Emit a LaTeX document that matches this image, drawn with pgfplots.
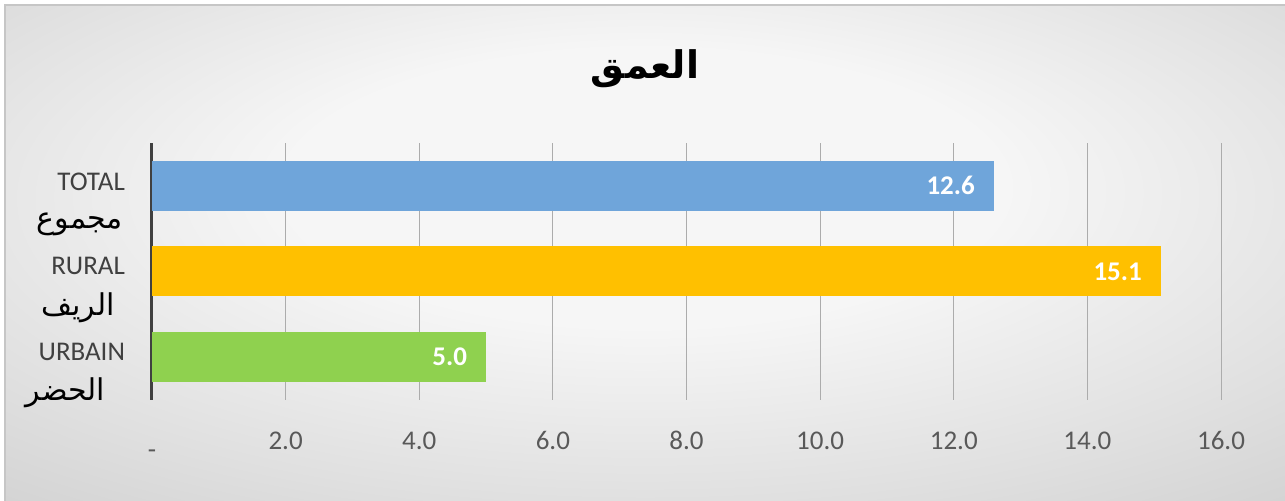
\documentclass[border=0pt]{standalone}
\usepackage{fontspec}
\setmainfont{Carlito}
\newfontfamily\arabicfont[Script=Arabic]{DejaVu Sans}
\TeXXeTstate=1
\usepackage{pgfplots}
\pgfplotsset{compat=1.18}
\definecolor{barblue}{HTML}{6FA5DA}
\definecolor{baryellow}{HTML}{FFC000}
\definecolor{bargreen}{HTML}{8FD14F}
\definecolor{tickgray}{HTML}{595959}
\definecolor{labgray}{HTML}{404040}
\definecolor{bginner}{HTML}{F6F6F6}
\definecolor{bgmid}{HTML}{E0E0E0}
\definecolor{bgouter}{HTML}{C6C6C6}
\pgfdeclareradialshading{bgshade}{\pgfpoint{0bp}{8bp}}{color(0bp)=(bginner); color(14bp)=(bginner); color(30bp)=(bgmid); color(48bp)=(bgouter); color(80bp)=(bgouter)}

\begin{document}
\begin{tikzpicture}
% 1 px of the reference = 0.5pt
\useasboundingbox (0,0) rectangle (642.5pt,250.5pt);
\shade[shading=bgshade] (2.5pt,0) rectangle (642.5pt,248pt);
\draw[gray!45, line width=0.6pt] (2.5pt,0) -- (2.5pt,248pt) -- (642.5pt,248pt);

\node[font=\arabicfont\bfseries\fontsize{19}{23}\selectfont] at (322.5pt,216pt) {\beginR العمق\endR};

\begin{axis}[
    at={(76pt,50.5pt)}, anchor=south west,
    scale only axis,
    width=534.5pt, height=128.5pt,
    xbar, bar width=25pt, bar shift=0pt,
    xmin=0, xmax=16, ymin=-0.5, ymax=2.5,
    axis lines*=left,
    separate axis lines,
    x axis line style={draw=none},
    y axis line style={draw=labgray, line width=1.5pt},
    xtick={0,2,4,6,8,10,12,14,16},
    xticklabels={\raisebox{-4.5pt}{-},2.0,4.0,6.0,8.0,10.0,12.0,14.0,16.0},
    typeset ticklabels with strut,
    ytick={0,1,2},
    yticklabels={{URBAIN\\[3pt]{\arabicfont\fontsize{15}{17}\selectfont\color{black}\beginR الحضر\endR\hspace*{10pt}}},
                 {RURAL\\[3pt]{\arabicfont\fontsize{15}{17}\selectfont\color{black}\beginR الريف\endR\hspace*{5pt}}},
                 {TOTAL\\[3pt]{\arabicfont\fontsize{15}{17}\selectfont\color{black}\beginR مجموع\endR\hspace*{1pt}}}},
    major tick length=0pt,
    tick style={draw=none},
    xmajorgrids,
    grid style={draw=gray!65, line width=0.5pt},
    xticklabel style={font=\fontsize{13.5}{16}\selectfont, text=tickgray, yshift=-10pt},
    yticklabel style={font=\fontsize{13.5}{16}\selectfont, text=labgray, align=right, xshift=-10pt, yshift=-8pt},
    nodes near coords,
    point meta=explicit,
    every node near coord/.append style={font=\bfseries\fontsize{13.5}{16}\selectfont, text=white, anchor=east, xshift=-6pt,
        /pgf/number format/.cd, fixed, fixed zerofill, precision=1, assume math mode=true},
]
\addplot[fill=barblue, draw=none] coordinates {(12.6,2) [12.6]};
\addplot[fill=baryellow, draw=none] coordinates {(15.1,1) [15.1]};
\addplot[fill=bargreen, draw=none] coordinates {(5.0,0) [5.0]};
\end{axis}
\end{tikzpicture}
\end{document}
